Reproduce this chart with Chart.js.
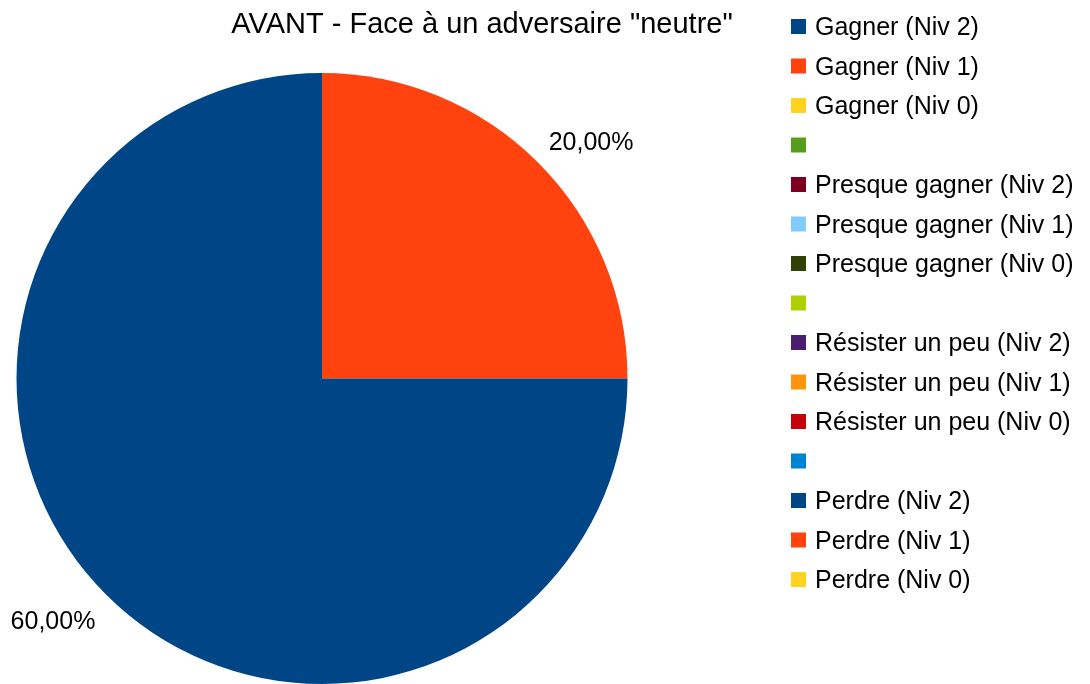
<!DOCTYPE html>
<html>
<head>
<meta charset="utf-8">
<script src="https://cdn.jsdelivr.net/npm/chart.js@4"></script>
<style>
  html, body { margin: 0; padding: 0; background: #fff; }
  #wrap { position: relative; width: 1090px; height: 684px; }
</style>
</head>
<body>
<div id="wrap"><canvas id="pie"></canvas></div>
<script>
const chartTitle = 'AVANT - Face à un adversaire "neutre"';

const categories = [
  "Gagner (Niv 2)", "Gagner (Niv 1)", "Gagner (Niv 0)", "",
  "Presque gagner (Niv 2)", "Presque gagner (Niv 1)", "Presque gagner (Niv 0)", "",
  "Résister un peu (Niv 2)", "Résister un peu (Niv 1)", "Résister un peu (Niv 0)", "",
  "Perdre (Niv 2)", "Perdre (Niv 1)", "Perdre (Niv 0)"
];

// share of answers, in percent
const values = [0, 20, 0, 0, 0, 0, 0, 0, 0, 0, 0, 0, 60, 0, 0];

const colors = [
  "#004586", "#ff420e", "#ffd320", "#579d1c",
  "#7e0021", "#83caff", "#314004", "#aecf00",
  "#4b1f6f", "#ff950e", "#c5000b", "#0084d1",
  "#004586", "#ff420e", "#ffd320"
];

const FONT = '"Liberation Sans", Arial, sans-serif';

function fmtPct(v) {
  return v.toFixed(2).replace('.', ',') + '%';
}

// title, legend and value labels drawn on top of the pie
const decorations = {
  id: 'decorations',
  afterDraw(chart) {
    const ctx = chart.ctx;
    ctx.save();
    ctx.fillStyle = '#000';
    ctx.textBaseline = 'alphabetic';

    ctx.font = '29px ' + FONT;
    ctx.textAlign = 'center';
    ctx.fillText(chartTitle, 482, 33);

    // legend
    ctx.font = '25px ' + FONT;
    ctx.textAlign = 'left';
    const labels = chart.data.labels;
    const bg = chart.data.datasets[0].backgroundColor;
    labels.forEach((lab, i) => {
      const y = 26 + i * 39.5;
      ctx.fillStyle = bg[i];
      ctx.fillRect(791, y - 7, 15, 15);
      ctx.fillStyle = '#000';
      if (lab) ctx.fillText(lab, 815, y + 9);
    });

    // value labels: nearest corner sits just outside the slice's mid-angle
    ctx.font = '25px ' + FONT;
    const meta = chart.getDatasetMeta(0);
    meta.data.forEach((arc, i) => {
      const v = chart.data.datasets[0].data[i];
      if (!v) return;
      const p = arc.getProps(['x', 'y', 'startAngle', 'endAngle', 'outerRadius'], true);
      const mid = (p.startAngle + p.endAngle) / 2;
      const r = p.outerRadius + 15;
      const ax = p.x + Math.cos(mid) * r;
      const ay = p.y + Math.sin(mid) * r;
      ctx.textAlign = Math.cos(mid) >= 0 ? 'left' : 'right';
      const by = Math.sin(mid) < 0 ? ay - 2 : ay + 24;
      ctx.fillText(fmtPct(v), ax, by);
    });
    ctx.restore();
  }
};

new Chart(document.getElementById('pie'), {
  type: 'pie',
  data: {
    labels: categories,
    datasets: [{
      data: values,
      backgroundColor: colors,
      borderWidth: 0
    }]
  },
  options: {
    responsive: true,
    maintainAspectRatio: false,
    animation: false,
    layout: { padding: { left: 16, top: 73, right: 462, bottom: 0 } },
    plugins: {
      legend: { display: false },
      title: { display: false },
      tooltip: { enabled: false }
    }
  },
  plugins: [decorations]
});
</script>
</body>
</html>
